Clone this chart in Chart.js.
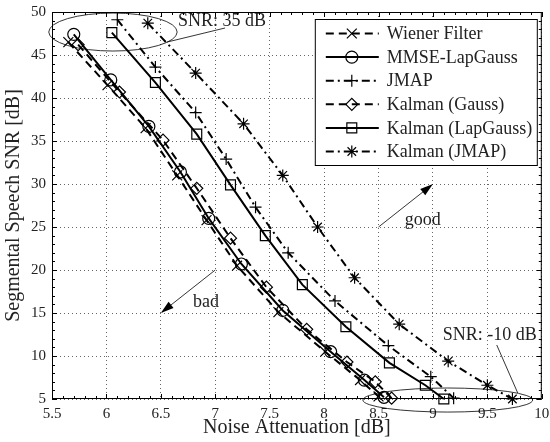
<!DOCTYPE html>
<html lang="en">
<head>
<meta charset="UTF-8">
<title>Segmental Speech SNR vs Noise Attenuation</title>
<script src="https://cdn.jsdelivr.net/npm/chart.js"></script>
<style>
  html, body { margin: 0; padding: 0; background: #fff; }
</style>
</head>
<body>
<canvas id="snrChart" width="550" height="442"></canvas>
<script>
// one marker per input SNR: 35, 30, ..., -10 dB
const wienerX   = [5.65, 6.01, 6.36, 6.65, 6.92, 7.20, 7.58, 8.01, 8.33, 8.50];
const wienerY   = [46.5, 41.5, 36.5, 31.0, 25.8, 20.5, 15.1, 10.5, 7.2, 5.3];
const mmseX     = [5.70, 6.04, 6.39, 6.68, 6.94, 7.24, 7.62, 8.06, 8.37, 8.55];
const mmseY     = [47.4, 42.1, 36.7, 31.4, 26.0, 20.7, 15.3, 10.5, 7.2, 5.2];
const jmapX     = [6.10, 6.45, 6.82, 7.10, 7.37, 7.67, 8.10, 8.59, 8.98, 9.19];
const jmapY     = [49.1, 43.6, 38.3, 32.9, 27.3, 22.0, 16.4, 11.2, 7.6, 5.1];
const kalGaussX = [5.74, 6.12, 6.52, 6.83, 7.14, 7.47, 7.84, 8.21, 8.47, 8.62];
const kalGaussY = [46.2, 40.7, 35.1, 29.5, 23.7, 18.0, 13.1, 9.3, 7.0, 5.1];
const kalLapX   = [6.05, 6.45, 6.83, 7.14, 7.46, 7.80, 8.20, 8.60, 8.93, 9.10];
const kalLapY   = [47.6, 41.8, 35.8, 29.9, 24.0, 18.3, 13.4, 9.2, 6.6, 5.0];
const kalJmapX  = [6.38, 6.82, 7.26, 7.62, 7.94, 8.28, 8.69, 9.14, 9.50, 9.73];
const kalJmapY  = [48.7, 42.9, 37.0, 31.0, 25.0, 19.1, 13.7, 9.4, 6.6, 5.0];

const seriesNames = ['Wiener Filter', 'MMSE-LapGauss', 'JMAP', 'Kalman (Gauss)', 'Kalman (LapGauss)', 'Kalman (JMAP)'];

const FONT = "'Liberation Serif', 'Times New Roman', serif";
const DASH = [8, 5];
const DASHDOT = [8, 4, 2, 4];

function pts(xs, ys) {
    return xs.map((v, i) => ({ x: v, y: ys[i] }));
}

function series(label, xs, ys, dash, style, radius) {
    return {
        label: label,
        data: pts(xs, ys),
        borderColor: '#000',
        borderWidth: 2,
        borderDash: dash,
        pointStyle: style,
        pointRadius: radius,
        pointBorderWidth: 1.2,
        pointBorderColor: '#000',
        pointBackgroundColor: 'rgba(0,0,0,0)',
        tension: 0,
        fill: false,
        clip: 10,
    };
}

const datasets = [
    series(seriesNames[0], wienerX, wienerY, DASH, 'crossRot', 7),
    series(seriesNames[1], mmseX, mmseY, [], 'circle', 6),
    series(seriesNames[2], jmapX, jmapY, DASHDOT, 'cross', 6),
    series(seriesNames[3], kalGaussX, kalGaussY, DASH, 'rectRot', 6),
    series(seriesNames[4], kalLapX, kalLapY, [], 'rect', 7),
    series(seriesNames[5], kalJmapX, kalJmapY, DASHDOT, 'star', 6),
];

function drawMarker(ctx, style, r, x, y) {
    if (Chart.helpers && Chart.helpers.drawPoint) {
        Chart.helpers.drawPoint(ctx, { pointStyle: style, radius: r, rotation: 0, borderWidth: 1.2 }, x, y);
        return;
    }
    ctx.beginPath();
    ctx.arc(x, y, r, 0, Math.PI * 2);
    ctx.stroke();
}

function arrow(ctx, x1, y1, x2, y2) {
    const a = Math.atan2(y2 - y1, x2 - x1);
    const len = 13, half = 4;
    const c = Math.cos(a), s = Math.sin(a);
    ctx.beginPath();
    ctx.moveTo(x1, y1);
    ctx.lineTo(x2 - len * 0.7 * c, y2 - len * 0.7 * s);
    ctx.stroke();
    ctx.beginPath();
    ctx.moveTo(x2, y2);
    ctx.lineTo(x2 - len * c + half * s, y2 - len * s - half * c);
    ctx.lineTo(x2 - len * c - half * s, y2 - len * s + half * c);
    ctx.closePath();
    ctx.fill();
}

// ellipses, leader lines, arrows and their texts (in data units)
const notes = {
    id: 'notes',
    afterDatasetsDraw(chart) {
        const { ctx, scales: { x, y } } = chart;
        const px = v => x.getPixelForValue(v);
        const py = v => y.getPixelForValue(v);
        ctx.save();
        ctx.strokeStyle = '#000';
        ctx.fillStyle = '#000';
        ctx.lineWidth = 0.8;
        ctx.setLineDash([]);

        const ell = (cx, cy, rx, ry) => {
            ctx.beginPath();
            ctx.ellipse(px(cx), py(cy), px(cx + rx) - px(cx), py(cy) - py(cy + ry), 0, 0, Math.PI * 2);
            ctx.stroke();
        };
        ell(6.06, 47.67, 0.59, 2.21);
        ell(9.136, 4.88, 0.78, 1.40);

        ctx.beginPath();
        ctx.moveTo(px(6.556), py(46.5));
        ctx.lineTo(px(7.09), py(48.14));
        ctx.moveTo(px(9.586), py(11.28));
        ctx.lineTo(px(9.779), py(5.70));
        ctx.stroke();

        arrow(ctx, px(8.5), py(25), px(9), py(30));
        arrow(ctx, px(7), py(20), px(6.5), py(15));

        ctx.fillStyle = '#222';
        ctx.font = '18px ' + FONT;
        ctx.textBaseline = 'middle';
        ctx.textAlign = 'left';
        ctx.fillText('SNR: 35 dB', px(6.657), py(48.95));
        ctx.fillText('SNR: -10 dB', px(9.09), py(12.44));
        ctx.textBaseline = 'alphabetic';
        ctx.fillText('good', px(8.74), py(25.2));
        ctx.textAlign = 'center';
        ctx.textBaseline = 'middle';
        ctx.fillText('bad', px(6.914), py(16.2));
        ctx.restore();
    }
};

// box round the plot, inward ticks, and the legend
const frame = {
    id: 'frame',
    afterDraw(chart) {
        const { ctx, chartArea: a, scales: { x, y } } = chart;
        ctx.save();
        ctx.setLineDash([]);
        ctx.strokeStyle = '#000';
        ctx.lineWidth = 1;
        ctx.strokeRect(a.left + 0.5, a.top + 0.5, a.right - a.left - 1, a.bottom - a.top - 1);

        ctx.beginPath();
        for (let i = 0; i <= 45; i++) {
            const p = Math.round(x.getPixelForValue(5.5 + i * 0.1)) + 0.5;
            const L = i % 5 === 0 ? 5 : 3;
            ctx.moveTo(p, a.bottom); ctx.lineTo(p, a.bottom - L);
            ctx.moveTo(p, a.top); ctx.lineTo(p, a.top + L);
        }
        for (let i = 0; i <= 45; i++) {
            const p = Math.round(y.getPixelForValue(5 + i)) + 0.5;
            const L = i % 5 === 0 ? 5 : 3;
            ctx.moveTo(a.left, p); ctx.lineTo(a.left + L, p);
            ctx.moveTo(a.right, p); ctx.lineTo(a.right - L, p);
        }
        ctx.stroke();

        // legend
        const lx = a.right - 227, ly = a.top + 7, lw = 222, lh = 146;
        ctx.fillStyle = '#fff';
        ctx.fillRect(lx, ly, lw, lh);
        ctx.strokeRect(lx + 0.5, ly + 0.5, lw, lh);
        ctx.font = '18px ' + FONT;
        ctx.textBaseline = 'middle';
        ctx.textAlign = 'left';
        chart.data.datasets.forEach((ds, i) => {
            const ry = ly + 14.5 + i * 23.6;
            ctx.strokeStyle = '#000';
            ctx.lineWidth = ds.borderWidth;
            ctx.setLineDash(ds.borderDash);
            ctx.beginPath();
            ctx.moveTo(lx + 11, ry);
            ctx.lineTo(lx + 64, ry);
            ctx.stroke();
            ctx.setLineDash([]);
            ctx.lineWidth = 1.2;
            ctx.fillStyle = 'rgba(0,0,0,0)';
            drawMarker(ctx, ds.pointStyle, ds.pointRadius, lx + 37, ry);
            ctx.fillStyle = '#222';
            ctx.fillText(ds.label, lx + 72, ry + 1);
        });
        ctx.restore();
    }
};

const gridStyle = {
    color: 'rgba(0,0,0,0.6)',
    lineWidth: 1,
    drawTicks: false,
};

new Chart(document.getElementById('snrChart'), {
    type: 'line',
    data: { datasets: datasets },
    options: {
        responsive: false,
        animation: false,
        devicePixelRatio: 1,
        layout: { padding: { top: 12, right: 8, left: 0, bottom: 0 } },
        plugins: { legend: { display: false }, tooltip: { enabled: false } },
        scales: {
            x: {
                type: 'linear',
                min: 5.5,
                max: 10,
                ticks: {
                    stepSize: 0.5, padding: 6, color: '#222', maxRotation: 0,
                    font: { family: FONT, size: 15 },
                    callback: v => String(Number(v.toFixed(1))),
                },
                grid: gridStyle,
                border: { display: false, dash: [1, 3] },
                title: { display: true, text: 'Noise Attenuation [dB]', color: '#222', font: { family: FONT, size: 20 }, padding: { top: 0, bottom: 2 } },
                afterFit(scale) {
                    scale.height = 43;
                    scale.paddingLeft = 0;
                    scale.paddingRight = 0;
                },
            },
            y: {
                type: 'linear',
                min: 5,
                max: 50,
                ticks: { stepSize: 5, padding: 6, color: '#222', font: { family: FONT, size: 15 } },
                grid: gridStyle,
                border: { display: false, dash: [1, 3] },
                title: { display: true, text: 'Segmental Speech SNR [dB]', color: '#222', font: { family: FONT, size: 20 }, padding: { top: 2, bottom: 0 } },
                afterFit(scale) {
                    scale.width = 52;
                    scale.paddingTop = 0;
                    scale.paddingBottom = 0;
                },
            },
        },
    },
    plugins: [notes, frame],
});
</script>
</body>
</html>
